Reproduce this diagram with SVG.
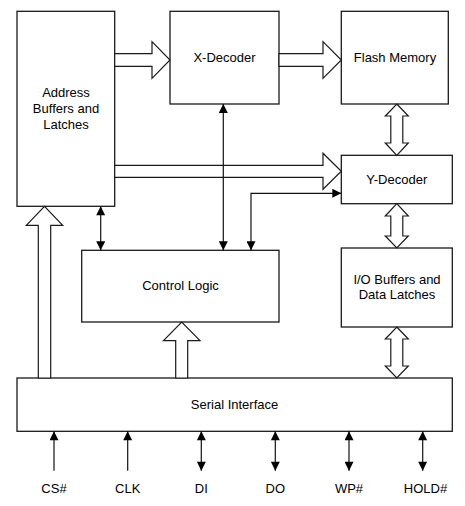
<svg xmlns="http://www.w3.org/2000/svg" width="465" height="506" viewBox="0 0 465 506">
<style>
.box{fill:#fff;stroke:#1a1a1a;stroke-width:1.3}
.wide{fill:#fff;stroke:#1a1a1a;stroke-width:1.2;stroke-linejoin:miter}
.ln{fill:none;stroke:#111;stroke-width:1.2}
text{font-family:"Liberation Sans",Arial,sans-serif;font-size:13px;fill:#000;text-anchor:middle}
</style>
<defs>
<marker id="ah" viewBox="0 0 10 10" refX="10" refY="5" markerWidth="10" markerHeight="9" markerUnits="userSpaceOnUse" orient="auto-start-reverse">
<path d="M0,0 L10,5 L0,10 z" fill="#000"/>
</marker>
</defs>
<rect width="465" height="506" fill="#fff"/>
<g id="address"><rect class="box" x="17" y="11.3" width="97.7" height="195"/><text x="66" y="96.5">Address</text><text x="66" y="112.8">Buffers and</text><text x="66" y="128.8">Latches</text></g>
<g id="xdecoder"><rect class="box" x="170" y="11.3" width="109" height="92.7"/><text x="224.5" y="62">X-Decoder</text></g>
<g id="flash"><rect class="box" x="341.3" y="11.3" width="107" height="92.7"/><text x="395" y="62">Flash Memory</text></g>
<g id="ydecoder"><rect class="box" x="341.3" y="155.3" width="111" height="48.4"/><text x="396.8" y="184">Y-Decoder</text></g>
<g id="iobuffers"><rect class="box" x="341.3" y="248" width="111" height="79"/><text x="397" y="284">I/O Buffers and</text><text x="397" y="298.5">Data Latches</text></g>
<g id="control"><rect class="box" x="81.7" y="250.3" width="197.3" height="71.7"/><text x="180.5" y="290">Control Logic</text></g>
<g id="serial"><rect class="box" x="17" y="378" width="435.3" height="53.3"/><text x="234.5" y="409">Serial Interface</text></g>
<g id="connectors">
<polygon class="wide" points="114.7,53.7 152,53.7 152,41.7 170,60 152,78.3 152,66.3 114.7,66.3"/>
<polygon class="wide" points="279,53.7 323,53.7 323,41.7 341.3,60 323,78.3 323,66.3 279,66.3"/>
<polygon class="wide" points="114.7,165.3 323,165.3 323,153.3 341.3,171.3 323,189.3 323,177.3 114.7,177.3"/>
<polygon class="wide" points="38.3,378 38.3,225.3 26.3,225.3 44.5,206.3 62.7,225.3 50.7,225.3 50.7,378"/>
<polygon class="wide" points="175.7,378 175.7,340.7 163.5,340.7 181.7,322 200,340.7 187.7,340.7 187.7,378"/>
<polygon class="wide" points="396.8,104 408.3,116 402.8,116 402.8,143 408.3,143 396.8,155.3 385.3,143 390.8,143 390.8,116 385.3,116"/>
<polygon class="wide" points="396.8,203.7 408.3,216 402.8,216 402.8,236 408.3,236 396.8,248 385.3,236 390.8,236 390.8,216 385.3,216"/>
<polygon class="wide" points="396.8,327 408.3,339 402.8,339 402.8,366 408.3,366 396.8,378 385.3,366 390.8,366 390.8,339 385.3,339"/>
<line class="ln" x1="100.7" y1="206.3" x2="100.7" y2="250.3" marker-start="url(#ah)" marker-end="url(#ah)"/>
<line class="ln" x1="223.3" y1="104" x2="223.3" y2="250.3" marker-start="url(#ah)" marker-end="url(#ah)"/>
<path class="ln" d="M251,250.3 V193.3 H341.3" marker-start="url(#ah)" marker-end="url(#ah)"/>
<line class="ln" x1="54" y1="470.7" x2="54" y2="431.3" marker-end="url(#ah)"/>
<line class="ln" x1="127.7" y1="470.7" x2="127.7" y2="431.3" marker-end="url(#ah)"/>
<line class="ln" x1="201.3" y1="470.7" x2="201.3" y2="431.3" marker-start="url(#ah)" marker-end="url(#ah)"/>
<line class="ln" x1="275.3" y1="470.7" x2="275.3" y2="431.3" marker-start="url(#ah)" marker-end="url(#ah)"/>
<line class="ln" x1="349" y1="470.7" x2="349" y2="431.3" marker-start="url(#ah)" marker-end="url(#ah)"/>
<line class="ln" x1="422.7" y1="470.7" x2="422.7" y2="431.3" marker-start="url(#ah)" marker-end="url(#ah)"/>
</g>
<g id="labels">
<text x="54" y="493">CS#</text>
<text x="127.7" y="493">CLK</text>
<text x="201.3" y="493">DI</text>
<text x="275.3" y="493">DO</text>
<text x="349" y="493">WP#</text>
<text x="425.5" y="493">HOLD#</text>
</g>
</svg>
